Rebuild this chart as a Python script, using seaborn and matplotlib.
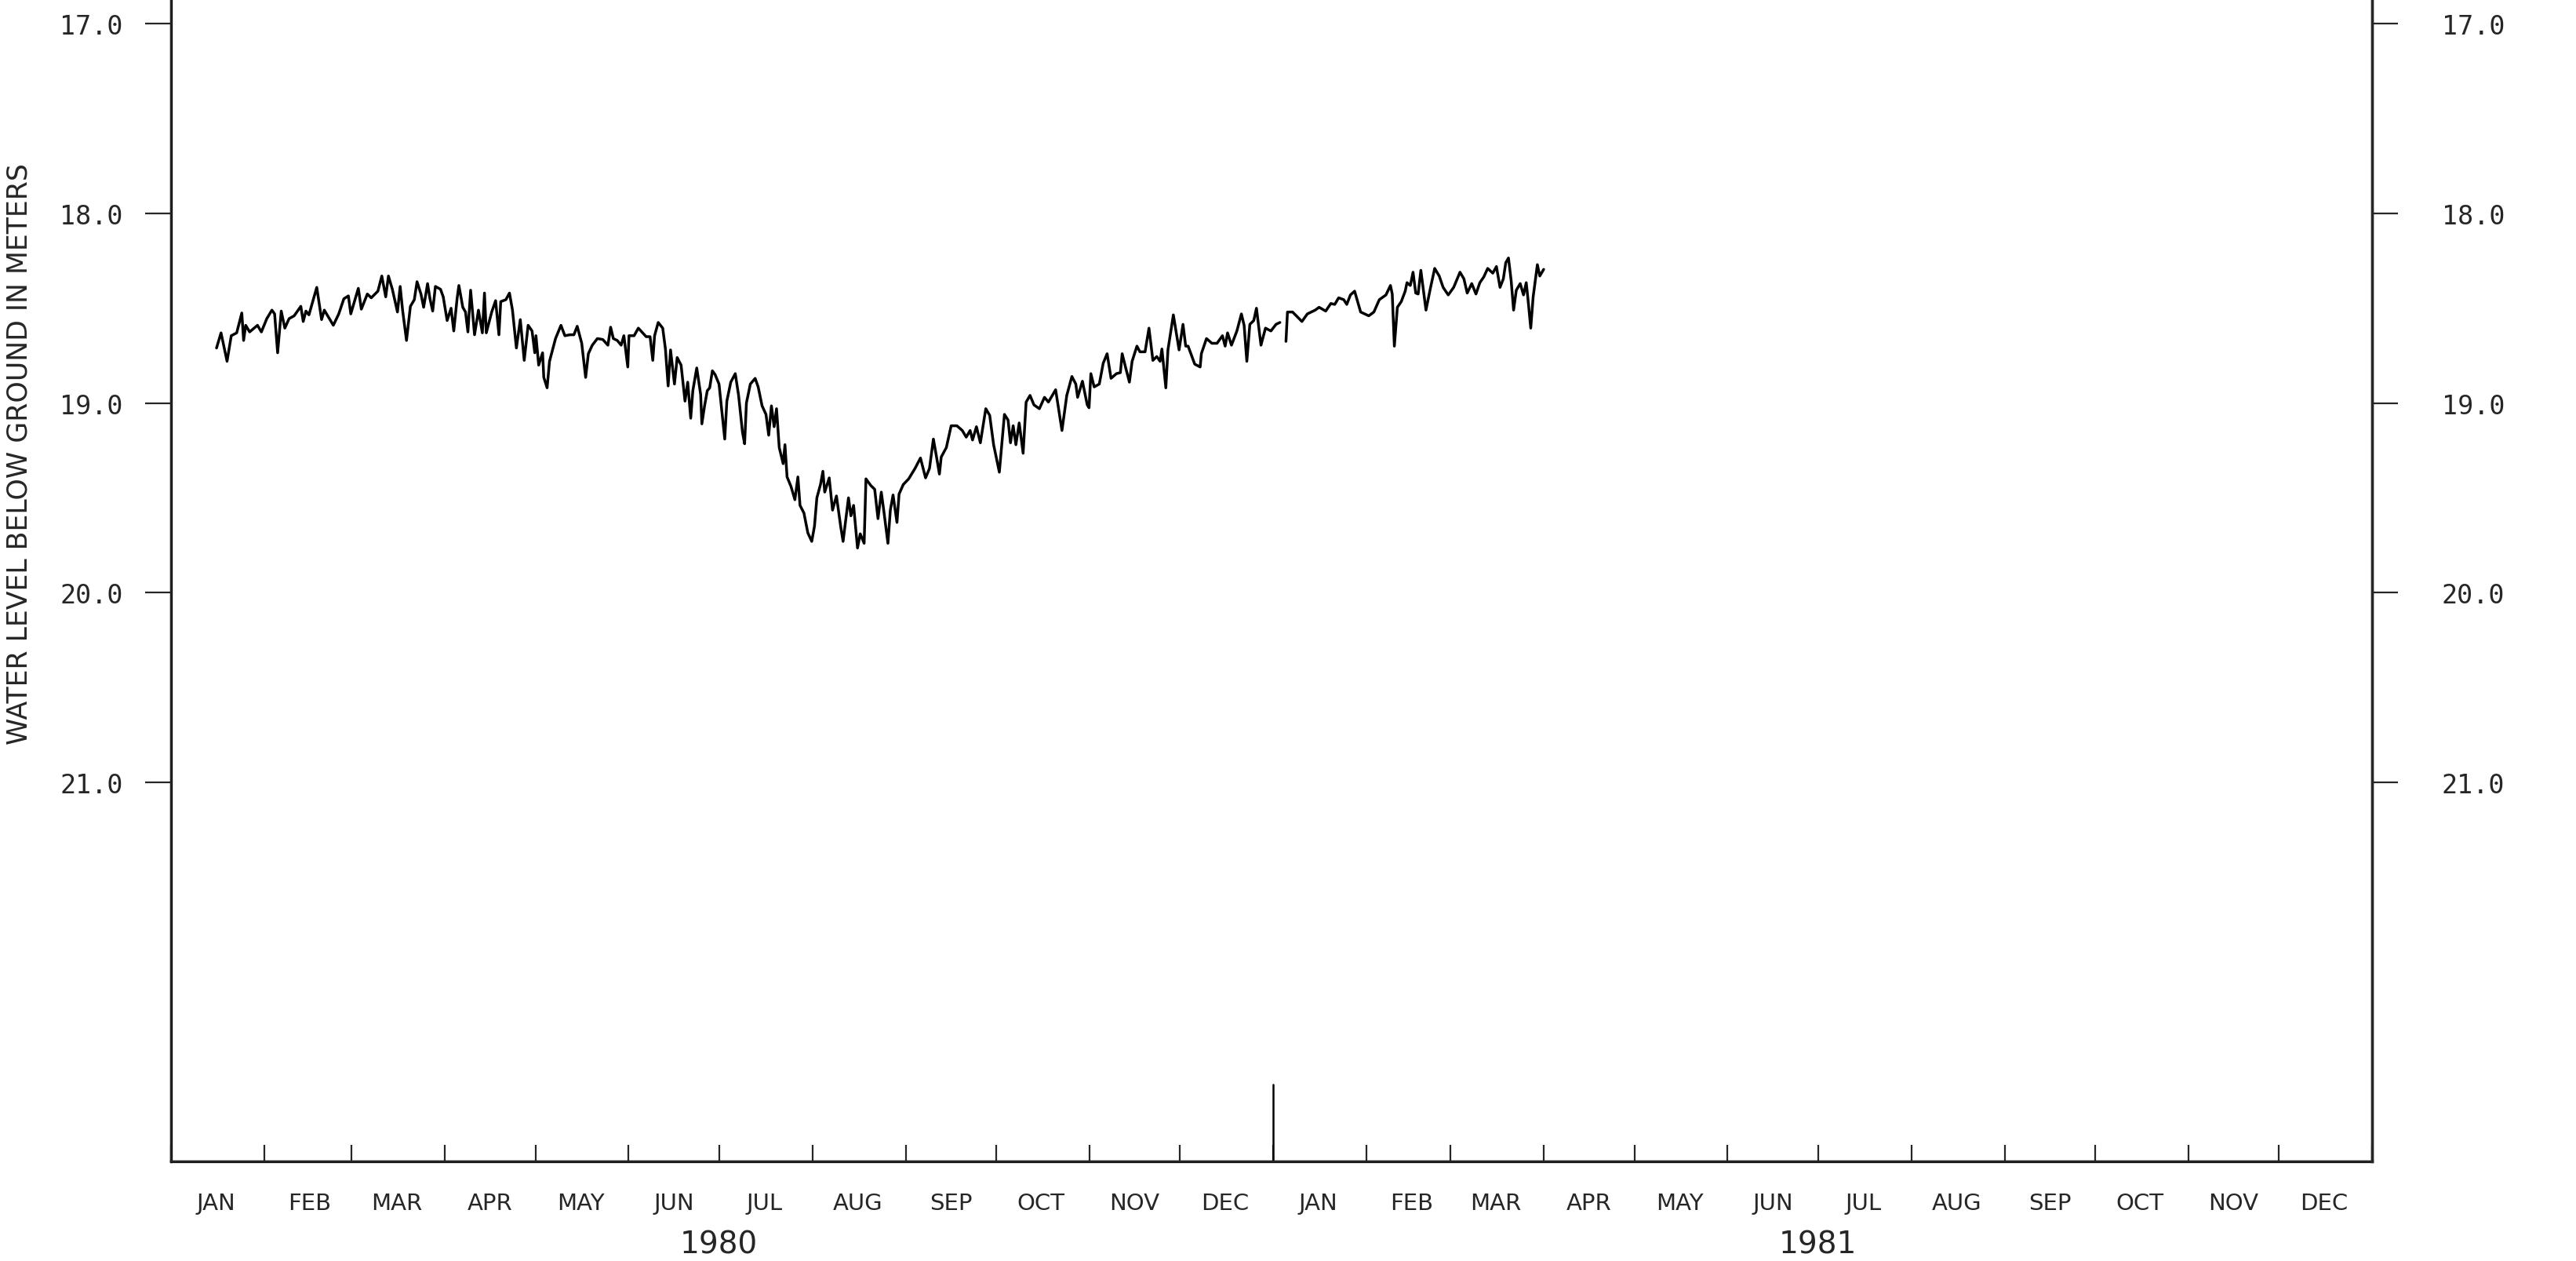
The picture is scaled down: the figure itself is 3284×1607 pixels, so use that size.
import pandas as pd
import seaborn as sns
import matplotlib
matplotlib.use("Agg")
import matplotlib.pyplot as plt
import matplotlib.dates as mdates
import matplotlib.ticker as mticker
from matplotlib.transforms import blended_transform_factory

# Water level record.
# day = days since 1 Jan 1980, level = meters below ground
days_1980 = [
    15.1, 16.6, 18.6, 20.0, 21.8, 23.5, 24.1, 24.8, 26.1, 28.7,
    30.0, 31.8, 33.5, 34.4, 35.4, 36.6, 37.8, 39.2, 40.9, 43.1,
    43.9, 44.8, 45.8, 48.4, 50.0, 50.9, 53.9, 55.7, 57.4, 58.9,
    59.7, 62.2, 63.2, 65.2, 66.5, 68.7, 70.0, 71.3, 72.2, 73.5,
    75.2, 76.1, 76.9, 78.2, 79.5, 80.8, 81.7, 83.0, 83.9, 85.2,
    86.0, 86.9, 87.8, 89.5, 90.4, 91.7, 93.0, 93.9, 95.0, 95.6,
    96.9, 97.8, 98.6, 99.5, 100.8, 102.1, 103.4, 104.1, 104.7, 106.5,
    107.8, 108.9, 109.5, 111.2, 112.4, 113.4, 114.7, 116.0, 117.3, 118.6,
    119.9, 120.8, 121.2, 122.1, 123.4, 123.8, 124.9, 125.7, 127.7, 129.5,
    130.8, 132.5, 133.8, 134.9, 136.4, 137.7, 138.6, 139.9, 141.6, 143.4,
    145.1, 146.0, 146.9, 148.2, 149.5, 150.4, 151.7, 152.1, 153.8, 155.2,
    157.8, 159.1, 160.0, 160.6, 161.8, 163.3, 164.2, 165.1, 165.9, 167.2,
    168.1, 169.4, 170.7, 171.6, 172.6, 173.3, 174.6, 175.9, 176.3, 177.2,
    178.1, 178.9, 179.8, 180.7, 182.0, 183.3, 183.9, 184.6, 185.9, 187.4,
    188.5, 189.8, 190.5, 191.1, 192.4, 194.0, 195.0, 196.3, 197.6, 198.5,
    199.4, 200.3, 201.1, 202.0, 203.3, 203.9, 204.6, 205.9, 207.2, 208.2,
    208.9, 210.2, 211.5, 212.8, 213.7, 214.5, 215.7, 216.5, 217.1, 218.6,
    219.7, 221.0, 222.4, 223.2, 225.0, 225.8, 226.7, 228.0, 228.9, 230.2,
    230.8, 232.4, 233.7, 234.8, 235.9, 236.7, 238.1, 238.9, 239.8, 241.1,
    241.8, 243.2, 245.0, 247.1, 248.9, 250.6, 251.9, 253.2, 254.3, 255.2,
    255.8, 257.5, 259.1, 261.0, 262.8, 264.1, 265.4, 266.2, 267.5, 268.8,
    270.6, 271.9, 273.2, 275.1, 276.8, 278.0, 278.8, 279.7, 280.6, 281.7,
    283.0, 284.0, 285.3, 286.6, 288.4, 290.1, 291.4, 293.8, 295.9, 297.5,
    299.2, 300.5, 301.1, 302.7, 304.3, 304.9, 305.5, 306.6, 308.3, 309.6,
    310.9, 312.2, 314.0, 315.3, 315.9, 317.0, 318.3, 319.2, 320.8, 321.8,
    323.5, 324.8, 326.1, 327.4, 328.5, 329.1, 330.4, 331.1, 332.9, 334.8,
    336.1, 337.0, 337.8, 340.0, 341.8, 342.2, 343.9, 345.7, 347.4, 349.2,
    350.1, 350.9, 352.2, 354.0, 355.5, 356.4, 357.3, 358.3, 359.6, 360.5,
    362.0, 363.5, 365.3, 367.0, 368.3,
]
level_1980 = [
    18.71, 18.63, 18.78, 18.645, 18.63, 18.525, 18.67, 18.59, 18.625, 18.59,
    18.625, 18.555, 18.51, 18.53, 18.735, 18.515, 18.605, 18.555, 18.54, 18.49,
    18.57, 18.515, 18.535, 18.39, 18.56, 18.51, 18.59, 18.53, 18.45, 18.435,
    18.53, 18.395, 18.505, 18.425, 18.445, 18.41, 18.33, 18.44, 18.33, 18.40,
    18.52, 18.385, 18.51, 18.67, 18.49, 18.455, 18.36, 18.425, 18.495, 18.37,
    18.45, 18.515, 18.385, 18.40, 18.44, 18.565, 18.50, 18.62, 18.45, 18.38,
    18.495, 18.52, 18.625, 18.405, 18.64, 18.51, 18.63, 18.42, 18.63, 18.52,
    18.46, 18.64, 18.465, 18.455, 18.42, 18.51, 18.71, 18.56, 18.775, 18.59,
    18.62, 18.735, 18.645, 18.80, 18.735, 18.865, 18.92, 18.78, 18.66, 18.59,
    18.645, 18.64, 18.64, 18.595, 18.685, 18.865, 18.74, 18.695, 18.66, 18.665,
    18.695, 18.60, 18.66, 18.67, 18.695, 18.645, 18.81, 18.645, 18.645, 18.605,
    18.65, 18.65, 18.775, 18.645, 18.575, 18.605, 18.715, 18.91, 18.72, 18.90,
    18.76, 18.80, 18.99, 18.89, 19.08, 18.935, 18.815, 18.955, 19.11, 19.015,
    18.935, 18.92, 18.83, 18.85, 18.90, 19.10, 19.19, 18.99, 18.89, 18.845,
    18.96, 19.155, 19.215, 19.00, 18.90, 18.87, 18.915, 19.015, 19.06, 19.17,
    19.015, 19.125, 19.03, 19.235, 19.32, 19.22, 19.39, 19.44, 19.51, 19.39,
    19.54, 19.58, 19.685, 19.73, 19.65, 19.50, 19.43, 19.36, 19.47, 19.395,
    19.565, 19.49, 19.65, 19.73, 19.50, 19.595, 19.54, 19.765, 19.69, 19.74,
    19.40, 19.435, 19.455, 19.61, 19.47, 19.565, 19.74, 19.565, 19.485, 19.63,
    19.48, 19.43, 19.40, 19.345, 19.29, 19.395, 19.345, 19.19, 19.29, 19.375,
    19.285, 19.235, 19.12, 19.12, 19.145, 19.18, 19.145, 19.195, 19.125, 19.21,
    19.03, 19.065, 19.22, 19.365, 19.06, 19.09, 19.21, 19.12, 19.22, 19.105,
    19.265, 18.995, 18.96, 19.01, 19.03, 18.97, 18.995, 18.93, 19.145, 18.96,
    18.86, 18.90, 18.97, 18.885, 19.01, 19.025, 18.845, 18.915, 18.90, 18.79,
    18.74, 18.87, 18.845, 18.84, 18.74, 18.81, 18.89, 18.78, 18.70, 18.73,
    18.73, 18.605, 18.775, 18.755, 18.78, 18.715, 18.92, 18.72, 18.535, 18.72,
    18.585, 18.70, 18.70, 18.795, 18.81, 18.74, 18.66, 18.685, 18.685, 18.645,
    18.70, 18.63, 18.695, 18.62, 18.53, 18.59, 18.78, 18.585, 18.565, 18.50,
    18.695, 18.605, 18.62, 18.585, 18.575,
]
days_1981 = [
    370.3, 370.8, 372.5, 375.6, 377.4, 380.0, 381.3, 383.5, 385.2, 386.5,
    387.8, 389.5, 390.5, 391.7, 393.1, 395.1, 397.8, 399.5, 401.3, 403.5,
    405.0, 405.6, 406.3, 407.3, 408.6, 409.9, 410.5, 411.6, 412.5, 413.4,
    414.2, 415.1, 416.8, 418.2, 419.7, 421.2, 422.5, 424.2, 426.0, 428.1,
    429.4, 430.5, 432.0, 433.4, 434.7, 436.0, 437.3, 439.0, 440.2, 441.4,
    442.5, 443.3, 444.2, 445.1, 445.9, 446.8, 448.1, 449.2, 450.1, 450.7,
    451.6, 452.4, 453.8, 454.6, 455.9,
]
level_1981 = [
    18.675, 18.52, 18.52, 18.57, 18.53, 18.51, 18.495, 18.515, 18.475, 18.48,
    18.445, 18.455, 18.48, 18.43, 18.41, 18.52, 18.54, 18.52, 18.455, 18.43,
    18.38, 18.425, 18.70, 18.495, 18.465, 18.41, 18.365, 18.38, 18.31, 18.42,
    18.425, 18.30, 18.51, 18.40, 18.29, 18.33, 18.39, 18.43, 18.39, 18.31,
    18.345, 18.42, 18.37, 18.425, 18.365, 18.335, 18.29, 18.315, 18.28, 18.39,
    18.345, 18.26, 18.235, 18.355, 18.51, 18.405, 18.37, 18.43, 18.365, 18.455,
    18.605, 18.44, 18.27, 18.33, 18.295,
]

y_ticks = [17.0, 18.0, 19.0, 20.0, 21.0]
month_names = ["JAN", "FEB", "MAR", "APR", "MAY", "JUN",
               "JUL", "AUG", "SEP", "OCT", "NOV", "DEC"]
years = [1980, 1981]

start = pd.Timestamp("1980-01-01")
df = pd.concat([
    pd.DataFrame({"day": days_1980, "level": level_1980, "piece": 0}),
    pd.DataFrame({"day": days_1981, "level": level_1981, "piece": 1}),
], ignore_index=True)
df["date"] = start + pd.to_timedelta(df["day"], unit="D")

sns.set_style("white")
plt.rcParams["font.family"] = ["DejaVu Sans"]

fig = plt.figure(figsize=(16.42, 8.04), dpi=200)
ax = fig.add_axes([0.0664, 0.079, 0.8544, 0.921])

# one line per continuous piece of record (gap just after new year)
sns.lineplot(data=df, x="date", y="level", units="piece", estimator=None,
             color="black", linewidth=1.25, ax=ax, legend=False)

ax.set_xlim(pd.Timestamp("1980-01-01"), pd.Timestamp("1982-01-01"))
ax.set_ylim(23.0, 16.87)
ax.set_xlabel("")
ax.set_ylabel("")

for side in ["left", "right", "bottom"]:
    ax.spines[side].set_linewidth(1.2)
    ax.spines[side].set_color("black")
ax.spines["top"].set_visible(False)

# left depth scale
ax.set_yticks(y_ticks)
ax.yaxis.set_major_formatter(mticker.FormatStrFormatter("%.1f"))
ax.tick_params(axis="y", direction="out", length=12, width=0.8, pad=10,
               labelsize=12, labelfontfamily="DejaVu Sans Mono", left=True)

# month ticks, labels between them
ax.xaxis.set_major_locator(mdates.MonthLocator())
ax.xaxis.set_major_formatter(mticker.NullFormatter())
ax.xaxis.set_minor_locator(mdates.MonthLocator(bymonthday=16))
ax.xaxis.set_minor_formatter(mticker.FuncFormatter(
    lambda v, p: month_names[mdates.num2date(v).month - 1]))
ax.tick_params(axis="x", which="major", direction="in", length=7.5, width=0.8, bottom=True)
ax.tick_params(axis="x", which="minor", length=0, pad=14, labelsize=10.5)

# long tick at the change of year
ax.axvline(pd.Timestamp("1981-01-01"), ymin=0, ymax=98 / 1481, color="black", lw=0.9)

# right depth scale
ax2 = ax.twinx()
ax2.set_ylim(ax.get_ylim())
ax2.set_yticks(y_ticks)
ax2.yaxis.set_major_formatter(mticker.FormatStrFormatter("%.1f"))
ax2.tick_params(axis="y", direction="out", length=12, width=0.8, pad=20,
                labelsize=12, labelfontfamily="DejaVu Sans Mono", right=True)
ax2.spines["top"].set_visible(False)
ax2.spines["right"].set_linewidth(1.2)
ax2.set_ylabel("")

trans = blended_transform_factory(ax.transData, ax.transAxes)
for yr in years:
    ax.text(mdates.date2num(pd.Timestamp(f"{yr}-07-01")), -0.071, str(yr),
            transform=trans, ha="center", va="center", fontsize=14)

fig.text(0.0076, 0.64, "WATER LEVEL BELOW GROUND IN METERS", rotation=90,
         ha="center", va="center", fontsize=12.5)

fig.savefig("out.png", dpi=200, facecolor="white")
